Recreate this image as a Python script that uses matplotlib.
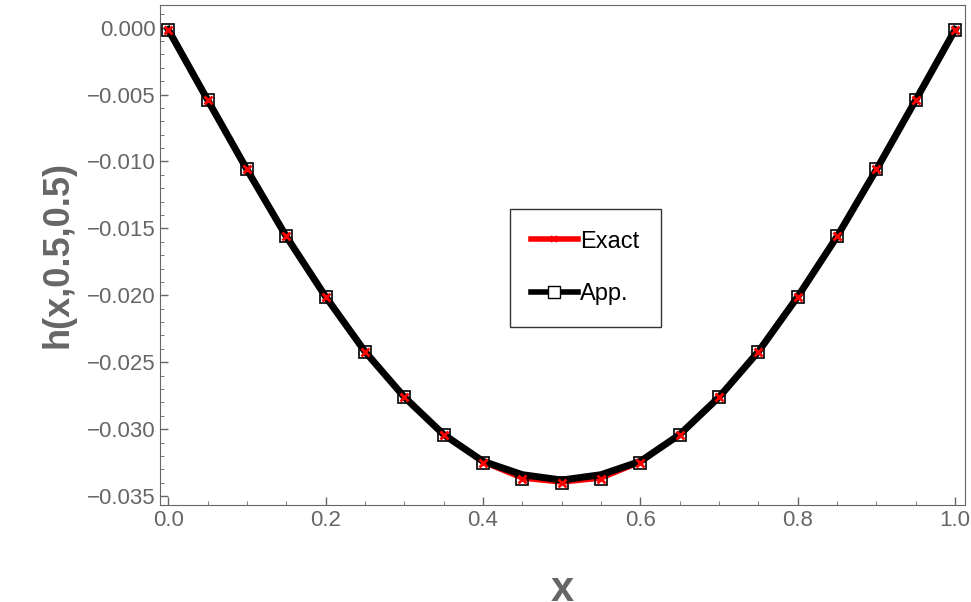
import matplotlib
matplotlib.use("Agg")
import matplotlib.pyplot as plt
from matplotlib.lines import Line2D

x = [0.0,0.05,0.1,0.15,0.2,0.25,0.3,0.35,0.4,0.45,0.5,0.55,0.6,0.65,0.7,0.75,0.8,0.85,0.9,0.95,1.0]
exact = [-0.00015,-0.0054,-0.0106,-0.0156,-0.0201,-0.0242,-0.0276,-0.0304,-0.0325,-0.0337,-0.0340,
         -0.0337,-0.0325,-0.0304,-0.0276,-0.0242,-0.0201,-0.0156,-0.0106,-0.0054,-0.00015]
app = [-0.00015,-0.0054,-0.0106,-0.0156,-0.0201,-0.0242,-0.0276,-0.0304,-0.0324,-0.0334,-0.0338,
       -0.0334,-0.0324,-0.0304,-0.0276,-0.0242,-0.0201,-0.0156,-0.0106,-0.0054,-0.00015]
xticks = [0.0,0.2,0.4,0.6,0.8,1.0]
yticks = [0.0,-0.005,-0.010,-0.015,-0.020,-0.025,-0.030,-0.035]

plt.rcParams['font.family'] = ['Liberation Sans', 'DejaVu Sans']
fig = plt.figure(figsize=(9.71,6.02), dpi=100)
ax = fig.add_axes([0.165,0.161,0.829,0.831])
gray = '#666666'
ax.plot(x, exact, color='red', lw=3, zorder=2)
ax.plot(x, app, color='black', lw=5, zorder=3)
ax.plot(x, exact, ls='none', marker='s', ms=9, mfc='none', mec='black', mew=1.2, zorder=4)
ax.plot(x, exact, ls='none', marker='x', ms=6, mew=2, mec='red', zorder=5)
h = [Line2D([], [], color='red', lw=4, marker='x', ms=5, mew=1.5),
     Line2D([], [], color='black', lw=4, marker='s', ms=8, mfc='white', mec='black', mew=1)]
leg = ax.legend(h, ['Exact','App.'], loc='center', bbox_to_anchor=(0.528,0.474), fontsize=17,
                frameon=True, fancybox=False, edgecolor='black', handlelength=2.0, labelspacing=1.3,
                borderpad=0.9, handletextpad=0.1)
leg.get_frame().set_linewidth(1)
ax.set_xlim(-0.0102, 1.0127)
ax.set_ylim(-0.03567, 0.0017)
ax.set_xticks(xticks)
ax.set_xticklabels([f"{v:.1f}" for v in xticks])
ax.set_yticks(yticks)
ax.set_yticklabels([f"{v:.3f}".replace('-', '\u2212') for v in yticks])
ax.tick_params(direction='in', colors=gray, labelsize=16, length=6, width=1, labelcolor=gray)
ax.minorticks_on()
ax.tick_params(which='minor', direction='in', length=3, color=gray)
for s in ax.spines.values():
    s.set_color(gray)
ax.set_xlabel('x', fontsize=30, fontweight='bold', color=gray, labelpad=28)
ax.set_ylabel('h(x,0.5,0.5)', fontsize=26, fontweight='bold', color=gray, labelpad=8)
fig.savefig('out.png', dpi=100)
